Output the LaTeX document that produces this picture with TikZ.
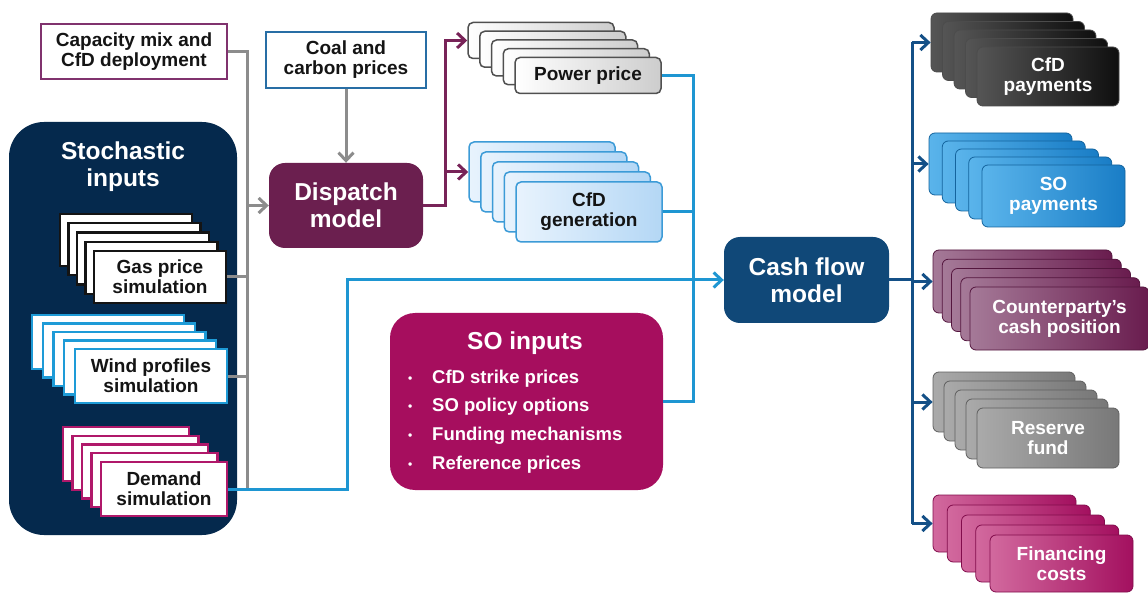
\documentclass[tikz,border=0pt]{standalone}
\usepackage{fontspec}
\setmainfont{Liberation Sans}
\usetikzlibrary{arrows.meta}

\begin{document}
\begin{tikzpicture}[x=1pt,y=1pt,
  >={Straight Barb[length=8pt,width=15pt]},
  smallText/.style={font=\fontsize{19}{20}\selectfont\bfseries},
  bigText/.style={font=\fontsize{24.5}{27}\selectfont\bfseries,text=white,align=center,inner sep=0pt},
  bulletText/.style={font=\fontsize{18.5}{20}\selectfont\bfseries,text=white,inner sep=0pt},
  inputBox/.style={draw=#1,fill=white,line width=2pt,inner sep=0pt,align=center,smallText,text=textColor},
  simBox/.style={draw=#1,fill=white,line width=2.2pt,inner sep=0pt,align=center,smallText,text=textColor},
  gasBox/.style={simBox=simBlack,minimum width=132pt,minimum height=52pt},
  windBox/.style={simBox=simBlue,minimum width=152pt,minimum height=54pt},
  demandBox/.style={simBox=simMagenta,minimum width=126pt,minimum height=54pt},
  modelBox/.style={rounded corners=16pt,inner sep=0pt,align=center,bigText},
  resultBox/.style={rounded corners=5pt,inner sep=0pt,align=center,smallText,line width=1.5pt,text=textColor},
  powerBox/.style={resultBox,draw=powerEdge,left color=white,right color=powerGray,minimum width=146pt,minimum height=36pt},
  genBox/.style={resultBox,draw=genEdge,left color=genLight,right color=genDark,minimum width=146pt,minimum height=60pt},
  outBox/.style={rounded corners=6pt,inner sep=0pt,align=center,smallText,text=white,line width=0.8pt},
  cfdPayBox/.style={outBox,draw=black!70,left color=cfdLight,right color=cfdDark,minimum width=142pt,minimum height=59pt},
  soPayBox/.style={outBox,draw=soPayDark!80!black,left color=soPayLight,right color=soPayDark,minimum width=143pt,minimum height=62pt},
  cptyBox/.style={outBox,draw=cptyDark!80!black,left color=cptyLight,right color=cptyDark,minimum width=179pt,minimum height=63pt},
  reserveBox/.style={outBox,draw=reserveDark!80!black,left color=reserveLight,right color=reserveDark,minimum width=142pt,minimum height=60pt},
  finBox/.style={outBox,draw=finDark!80!black,left color=finLight,right color=finDark,minimum width=143pt,minimum height=57pt},
  grayLink/.style={draw=grayLine,line width=3pt},
  plumLink/.style={draw=plumLine,line width=3pt},
  blueLink/.style={draw=blueLine,line width=3pt},
  navyLink/.style={draw=navyLine,line width=3pt}]
\definecolor{textColor}{RGB}{20,20,20}
\definecolor{stochColor}{RGB}{5,41,77}
\definecolor{dispatchColor}{RGB}{107,31,79}
\definecolor{cashColor}{RGB}{16,72,120}
\definecolor{soColor}{RGB}{166,14,94}
\definecolor{capEdge}{RGB}{128,50,110}
\definecolor{coalEdge}{RGB}{40,110,165}
\definecolor{simBlack}{RGB}{20,20,20}
\definecolor{simBlue}{RGB}{30,155,215}
\definecolor{simMagenta}{RGB}{176,24,106}
\definecolor{powerEdge}{RGB}{80,80,80}
\definecolor{powerGray}{RGB}{205,205,205}
\definecolor{genEdge}{RGB}{60,155,215}
\definecolor{genLight}{RGB}{232,243,253}
\definecolor{genDark}{RGB}{180,215,245}
\definecolor{cfdLight}{RGB}{85,85,85}
\definecolor{cfdDark}{RGB}{15,15,15}
\definecolor{soPayLight}{RGB}{90,180,235}
\definecolor{soPayDark}{RGB}{25,125,198}
\definecolor{cptyLight}{RGB}{165,122,152}
\definecolor{cptyDark}{RGB}{105,28,78}
\definecolor{reserveLight}{RGB}{170,170,170}
\definecolor{reserveDark}{RGB}{120,120,120}
\definecolor{finLight}{RGB}{210,105,158}
\definecolor{finDark}{RGB}{163,16,95}
\definecolor{grayLine}{RGB}{140,140,140}
\definecolor{plumLine}{RGB}{120,35,88}
\definecolor{blueLine}{RGB}{30,150,210}
\definecolor{navyLine}{RGB}{20,80,135}

\path[use as bounding box,fill=white] (0,0) rectangle (1148,595);

\node[inputBox=capEdge,minimum width=186pt,minimum height=55pt] (capmix) at (134,543.5) {Capacity mix and\\CfD deployment};
\node[inputBox=coalEdge,minimum width=160pt,minimum height=56pt] (coal) at (346,535) {Coal and\\carbon prices};

\node[fill=stochColor,rounded corners=35pt,minimum width=228pt,minimum height=413pt] (stoch) at (123,266.5) {};
\node[bigText,anchor=north] (stochTitle) at (123,453) {Stochastic\\inputs};

\foreach \i in {4,3,2,1}
  \node[gasBox] (gas-\i) at ({160-8.5*\i},{318+9.25*\i}) {};
\node[gasBox] (gas) at (160,318) {Gas price\\simulation};
\foreach \i in {4,3,2,1}
  \node[windBox] (wind-\i) at ({151-10.75*\i},{219+8.5*\i}) {};
\node[windBox] (wind) at (151,219) {Wind profiles\\simulation};
\foreach \i in {4,3,2,1}
  \node[demandBox] (demand-\i) at ({164-9.5*\i},{106+8.75*\i}) {};
\node[demandBox] (demand) at (164,106) {Demand\\simulation};

\node[modelBox,fill=dispatchColor,minimum width=154pt,minimum height=85pt] (dispatch) at (346,389.5) {Dispatch\\model};

\foreach \i in {4,3,2,1}
  \node[powerBox] (power-\i) at ({588-11.75*\i},{519.5+8.75*\i}) {};
\node[powerBox] (power) at (588,519.5) {Power price};
\foreach \i in {4,3,2,1}
  \node[genBox] (gen-\i) at ({589-11.75*\i},{383+10*\i}) {};
\node[genBox] (gen) at (589,383) {CfD\\generation};

\node[fill=soColor,rounded corners=25pt,minimum width=273pt,minimum height=177pt] (so) at (526.5,193.5) {};
\node[bigText,anchor=base] (soTitle) at (525,245) {SO inputs};
\foreach \t [count=\k] in {CfD strike prices,SO policy options,Funding mechanisms,Reference prices}
  \node[bulletText,anchor=base west] (so-\k) at (408,{240.7-28.7*\k}) {\makebox[24pt][l]{\fontsize{12}{12}\selectfont\raisebox{1pt}{\textbullet}}\t};

\node[modelBox,fill=cashColor,minimum width=165pt,minimum height=86pt] (cash) at (806.5,315) {Cash flow\\model};

\foreach \i in {4,3,2,1}
  \node[cfdPayBox] (cfdpay-\i) at ({1048-11.5*\i},{518.5+8.5*\i}) {};
\node[cfdPayBox] (cfdpay) at (1048,518.5) {CfD\\payments};
\foreach \i in {4,3,2,1}
  \node[soPayBox] (sopay-\i) at ({1053.5-13.25*\i},{399+8*\i}) {};
\node[soPayBox] (sopay) at (1053.5,399) {SO\\payments};
\foreach \i in {4,3,2,1}
  \node[cptyBox] (cpty-\i) at ({1059.5-9.25*\i},{276.5+9.25*\i}) {};
\node[cptyBox] (cpty) at (1059.5,276.5) {Counterparty's\\cash position};
\foreach \i in {4,3,2,1}
  \node[reserveBox] (reserve-\i) at ({1048-11*\i},{157+9*\i}) {};
\node[reserveBox] (reserve) at (1048,157) {Reserve\\fund};
\foreach \i in {4,3,2,1}
  \node[finBox] (fin-\i) at ({1061.5-14.25*\i},{31.5+10*\i}) {};
\node[finBox] (fin) at (1061.5,31.5) {Financing\\costs};

\coordinate (gtrunk) at (247,0);
\coordinate (pjoin) at (445,0);
\coordinate (dturn) at (347,0);
\coordinate (bjoin) at (693,0);
\coordinate (cjoin) at (912,0);

\draw[grayLink] (capmix.east) -- (capmix.east -| gtrunk) -- (demand.east -| gtrunk);
\draw[grayLink] (gas.east) -- (gas.east -| gtrunk);
\draw[grayLink] (wind.east) -- (wind.east -| gtrunk);
\draw[grayLink,->] (dispatch.west -| gtrunk) -- (dispatch.west);
\draw[grayLink,->] (coal) -- (dispatch);

\draw[plumLink,->] (dispatch.east) -- (dispatch.east -| pjoin) |- (power-4.west);
\draw[plumLink,->] (gen-4.west -| pjoin) -- (gen-4.west);

\draw[blueLink] (power.east) -- (power.east -| bjoin) -- (so.east -| bjoin) -- (so.east);
\draw[blueLink] (gen.east) -- (gen.east -| bjoin);
\draw[blueLink,->] (demand.east) -- (demand.east -| dturn) |- (cash.west);

\draw[navyLink] (cash.east) -- (cash.east -| cjoin);
\draw[navyLink] (cfdpay-4.west -| cjoin) -- (fin-4.west -| cjoin);
\foreach \n in {cfdpay,sopay,cpty,reserve,fin}
  \draw[navyLink,->] (\n-4.west -| cjoin) -- (\n-4.west);
\end{tikzpicture}
\end{document}
